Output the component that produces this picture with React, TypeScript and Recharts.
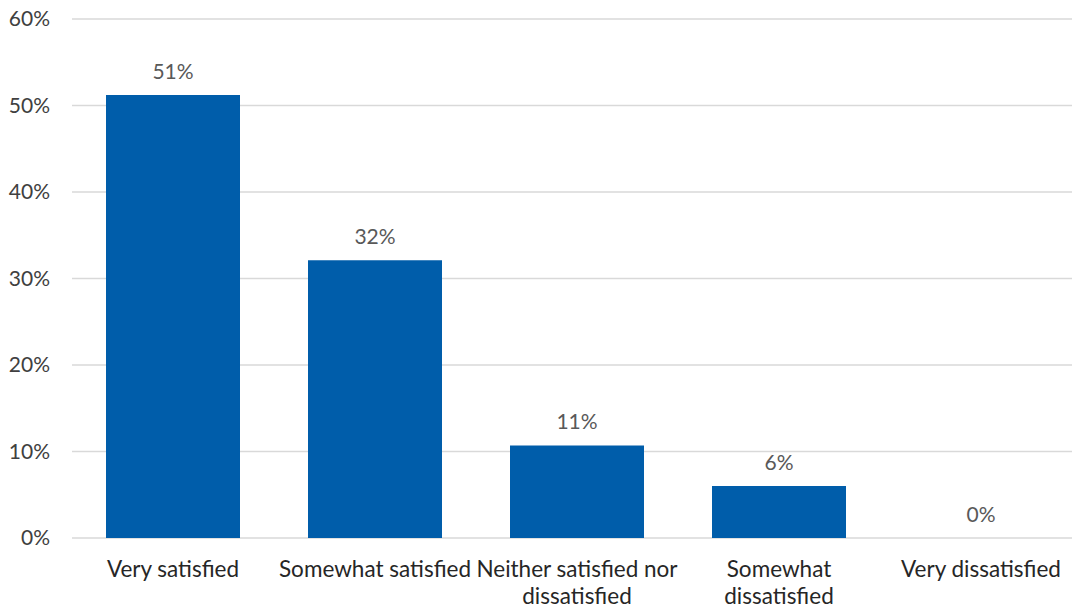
import { ComposedChart, Bar, Line, XAxis, YAxis, CartesianGrid } from "recharts";

const CATEGORIES = [
  "Very satisfied",
  "Somewhat satisfied",
  "Neither satisfied nor dissatisfied",
  "Somewhat dissatisfied",
  "Very dissatisfied",
];
const SHARES = [51.2, 32.1, 10.7, 6.0, 0];
const Y_TICKS = [0, 10, 20, 30, 40, 50, 60];

const FONT = "Lato, 'Open Sans', sans-serif";
const BAR_COLOR = "#005DAA";
const TICK_SIZE = 22.5;

const data = CATEGORIES.map((name, i) => ({ name, value: SHARES[i] }));

let ctx: CanvasRenderingContext2D | null = null;
function measure(s: string) {
  if (!ctx) ctx = document.createElement("canvas").getContext("2d");
  if (!ctx) return s.length * TICK_SIZE * 0.45;
  ctx.font = `${TICK_SIZE}px ${FONT}`;
  return ctx.measureText(s).width;
}

// greedy word wrap, like the axis labels of the original
function wrap(label: string, maxWidth: number) {
  const lines: string[] = [];
  let cur = "";
  for (const w of label.split(" ")) {
    const next = cur ? `${cur} ${w}` : w;
    if (cur && measure(next) > maxWidth) {
      lines.push(cur);
      cur = w;
    } else {
      cur = next;
    }
  }
  if (cur) lines.push(cur);
  return lines;
}

function CategoryTick(props: any) {
  const { x, y, payload } = props;
  const lines = wrap(String(payload.value), 205);
  return (
    <text x={x} y={y} textAnchor="middle" fill="#262626" fontSize={TICK_SIZE} fontFamily={FONT}>
      {lines.map((l, i) => (
        <tspan key={i} x={x} y={y + 31 + i * 27}>
          {l}
        </tspan>
      ))}
    </text>
  );
}

function ValueLabel(props: any) {
  const { x, y, value } = props;
  return (
    <text x={x} y={Number(y) - 16} textAnchor="middle" fill="#595959" fontSize={21} fontFamily={FONT}>
      {`${Math.round(Number(value))}%`}
    </text>
  );
}

export default function App() {
  return (
    <div style={{ position: "fixed", left: 0, top: 0, width: 1072, height: 608, overflow: "hidden", background: "#fff" }}>
      <ComposedChart width={1082} height={608} data={data} margin={{ top: 19, right: 0, left: 0, bottom: 0 }}>
        <CartesianGrid vertical={false} stroke="#d9d9d9" strokeWidth={1.5} />
        <XAxis
          dataKey="name"
          height={70}
          axisLine={false}
          tickLine={false}
          interval={0}
          tick={<CategoryTick />}
        />
        <YAxis
          width={72}
          domain={[0, 60]}
          ticks={Y_TICKS}
          axisLine={false}
          tickLine={false}
          tickSize={0}
          tickMargin={22}
          tickFormatter={(v: number) => `${v}%`}
          tick={{ fill: "#404040", fontSize: 21, fontFamily: FONT }}
        />
        <Bar dataKey="value" fill={BAR_COLOR} barSize={134} isAnimationActive={false} />
        {/* invisible series only used to place the value labels, so the 0% one shows too */}
        <Line
          dataKey="value"
          stroke="none"
          dot={false}
          activeDot={false}
          legendType="none"
          isAnimationActive={false}
          label={<ValueLabel />}
        />
      </ComposedChart>
    </div>
  );
}
